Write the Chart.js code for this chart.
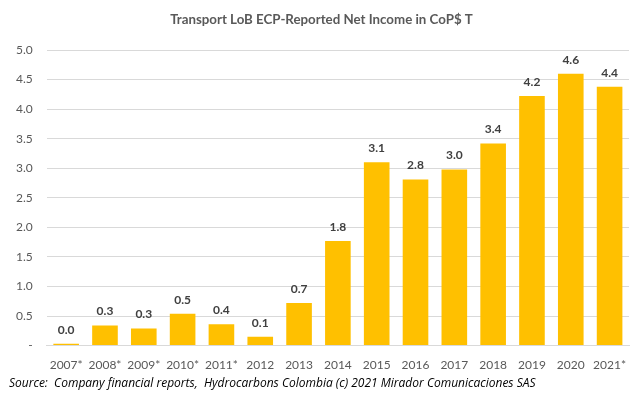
<!DOCTYPE html>
<html><head><meta charset="utf-8">
<script src="https://cdn.jsdelivr.net/npm/chart.js@4"></script>
<style>html,body{margin:0;padding:0;background:#fff}#wrap{width:643px;height:398px}</style>
</head><body><div id="wrap"><canvas id="c" width="643" height="398"></canvas></div>
<script>
const categories = ["2007*","2008*","2009*","2010*","2011*","2012","2013","2014","2015","2016","2017","2018","2019","2020","2021*"];
const netIncome = [0.03,0.34,0.29,0.54,0.36,0.15,0.72,1.77,3.10,2.81,2.98,3.42,4.22,4.60,4.38];
const yTicks = [0,0.5,1.0,1.5,2.0,2.5,3.0,3.5,4.0,4.5,5.0];
const titleText = "Transport LoB ECP-Reported Net Income in CoP$ T";
const sourceText = "Source:  Company financial reports,  Hydrocarbons Colombia (c) 2021 Mirador Comunicaciones SAS";

const labelPlugin = {
  id: 'barLabels',
  afterDatasetsDraw(chart) {
    const ctx = chart.ctx;
    const meta = chart.getDatasetMeta(0);
    ctx.save();
    ctx.font = 'bold 12px Lato, "Open Sans", sans-serif';
    ctx.fillStyle = '#404040';
    ctx.textAlign = 'center';
    ctx.textBaseline = 'bottom';
    meta.data.forEach((bar, i) => {
      ctx.fillText(netIncome[i].toFixed(1), bar.x, bar.y - 8);
    });
    ctx.restore();
  }
};

const textPlugin = {
  id: 'titleSource',
  afterDraw(chart) {
    const ctx = chart.ctx;
    ctx.save();
    ctx.font = 'bold 13.3px Lato, "Open Sans", sans-serif';
    ctx.fillStyle = '#595959';
    ctx.textAlign = 'center';
    ctx.textBaseline = 'middle';
    ctx.fillText(titleText, chart.width / 2, 20);
    ctx.font = 'italic 12px "Open Sans", Lato, sans-serif';
    ctx.fillStyle = '#000';
    ctx.textAlign = 'left';
    ctx.fillText(sourceText, 9, 384);
    ctx.restore();
  }
};

new Chart(document.getElementById('c'), {
  type: 'bar',
  data: { labels: categories, datasets: [{ data: netIncome, backgroundColor: '#FFC000', categoryPercentage: 1.0, barPercentage: 0.66 }] },
  options: {
    responsive: false, animation: false,
    layout: { padding: { left: 2, right: 14, top: 50, bottom: 22 } },
    plugins: { legend: { display: false }, tooltip: { enabled: false }, title: { display: false } },
    scales: {
      x: { grid: { display: false }, border: { color: '#d9d9d9' },
           ticks: { color: '#595959', font: { family: 'Lato, "Open Sans", sans-serif', size: 12 }, maxRotation: 0, autoSkip: false, padding: 4 } },
      y: { min: 0, max: 5, afterBuildTicks: (s) => { s.ticks = yTicks.map(v => ({ value: v })); },
           grid: { color: '#d9d9d9', drawTicks: false }, border: { display: false },
           ticks: { color: '#595959', font: { family: 'Lato, "Open Sans", sans-serif', size: 12 }, padding: 14,
                    callback: (v) => v === 0 ? '-' : Number(v).toFixed(1) } }
    }
  },
  plugins: [labelPlugin, textPlugin]
});
</script></body></html>
